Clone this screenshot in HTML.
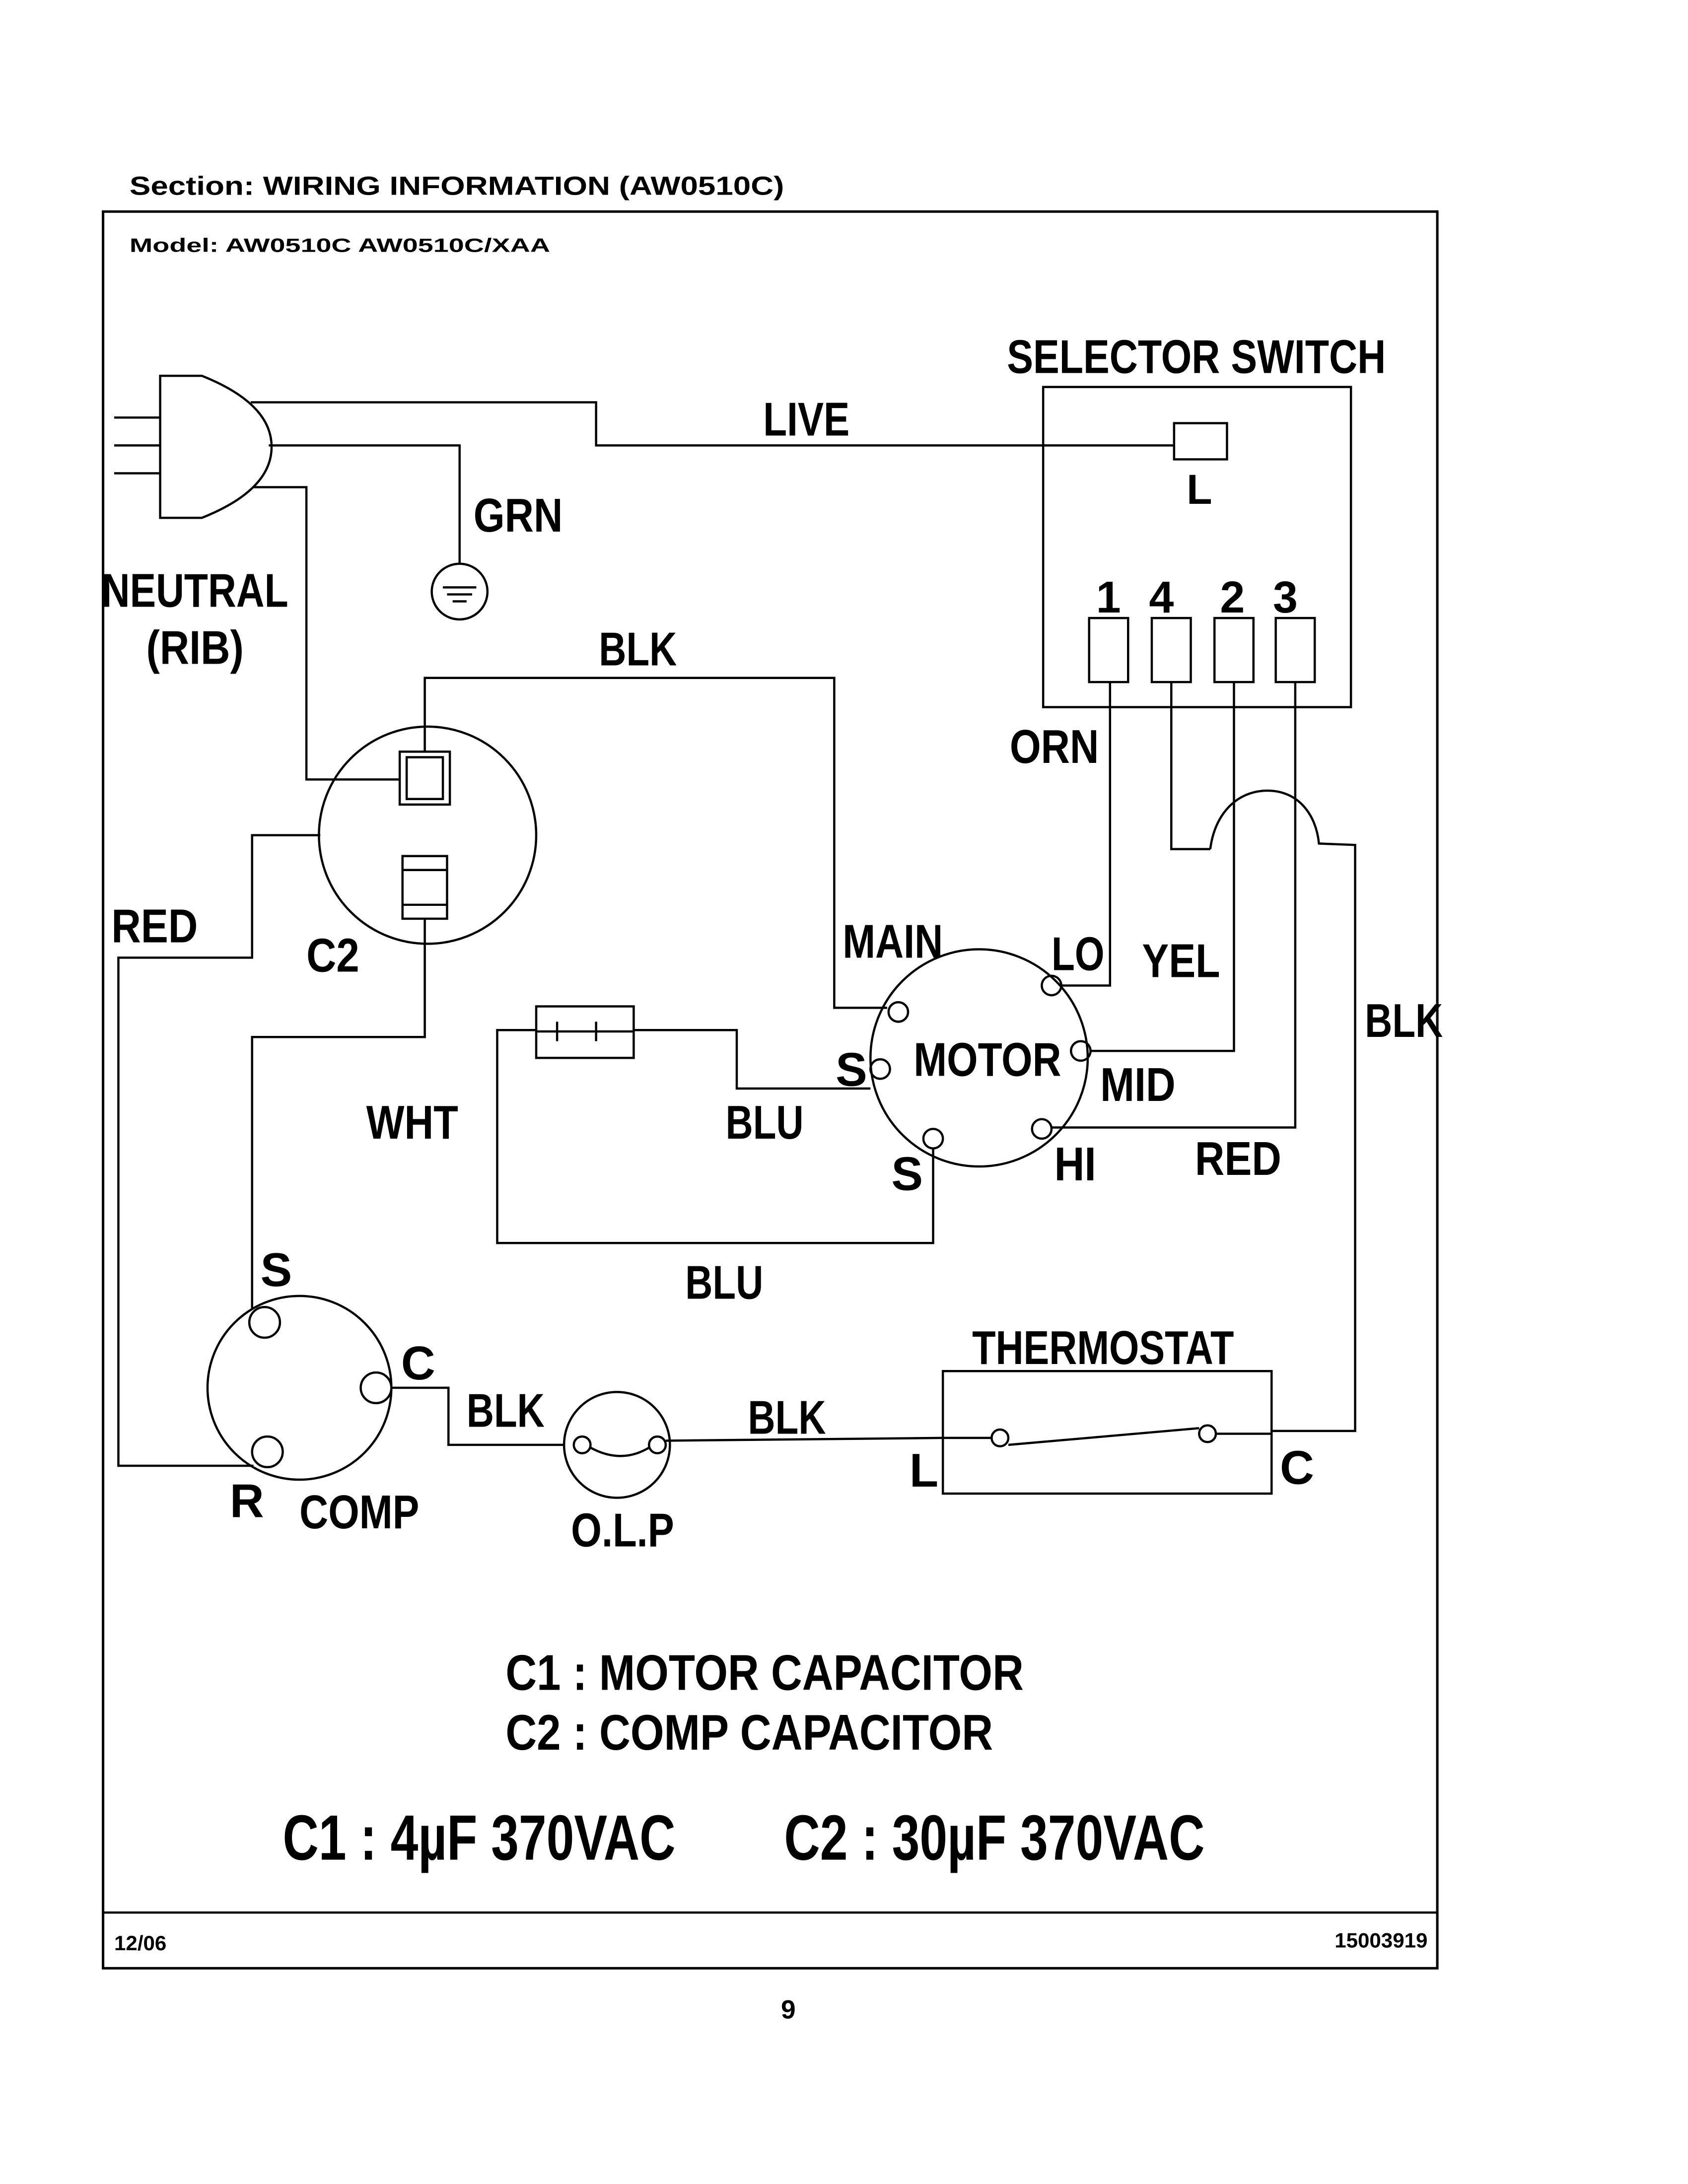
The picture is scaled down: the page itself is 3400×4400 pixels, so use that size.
<!DOCTYPE html>
<html><head><meta charset="utf-8"><style>
html,body{margin:0;padding:0;background:#fff}
svg{display:block}
text{font-family:"Liberation Sans",sans-serif;fill:#000}
.b{font-weight:bold}
</style></head><body>
<svg width="3400" height="4400" viewBox="0 0 1212 1569" preserveAspectRatio="none" xmlns="http://www.w3.org/2000/svg">
<rect width="1224" height="1584" fill="#fff"/>
<g fill="none" stroke="#000" stroke-width="1.6">
<rect x="74" y="152" width="958" height="1262" stroke-width="1.8"/>
<line x1="74" y1="1374" x2="1032" y2="1374"/>
<rect x="749" y="278" width="221" height="230"/>
<rect x="843" y="304" width="38" height="26"/>
<rect x="782" y="444" width="28" height="46"/>
<rect x="827" y="444" width="28" height="46"/>
<rect x="872" y="444" width="28" height="46"/>
<rect x="916" y="444" width="28" height="46"/>
<path d="M115,270 L145,270 Q195,290 195,321 Q195,352 145,372 L115,372 Z"/>
<line x1="82" y1="300" x2="115" y2="300"/><line x1="82" y1="320" x2="115" y2="320"/><line x1="82" y1="340" x2="115" y2="340"/>
<polyline points="180,289 428,289 428,320 843,320"/>
<polyline points="193,320 330,320 330,405"/>
<circle cx="330" cy="425" r="20"/>
<line x1="318" y1="422" x2="342" y2="422"/><line x1="321" y1="427" x2="339" y2="427"/><line x1="325" y1="432" x2="335" y2="432"/>
<polyline points="182,350 220,350 220,560 287,560"/>
<circle cx="307" cy="600" r="78"/>
<rect x="287" y="540" width="36" height="38"/>
<rect x="292" y="544" width="26" height="30"/>
<rect x="289" y="615" width="32" height="45"/>
<line x1="289" y1="625" x2="321" y2="625"/><line x1="289" y1="650" x2="321" y2="650"/>
<polyline points="305,540 305,487 599,487 599,724 637,724"/>
<polyline points="230,600 181,600 181,688 85,688 85,1053 182,1053"/>
<polyline points="305,660 305,745 181,745 181,940"/>
<circle cx="703" cy="760" r="78"/>
<circle cx="645" cy="727" r="7"/>
<circle cx="755" cy="708" r="7"/>
<circle cx="776" cy="755" r="7"/>
<circle cx="748" cy="811" r="7"/>
<circle cx="632" cy="768" r="7"/>
<circle cx="670" cy="818" r="7"/>
<rect x="385" y="723" width="70" height="37"/>
<line x1="400" y1="734" x2="400" y2="748"/><line x1="428" y1="734" x2="428" y2="748"/><line x1="385" y1="741" x2="455" y2="741"/>
<polyline points="455,740 529,740 529,782 625,782"/>
<polyline points="385,740 357,740 357,893 670,893 670,825"/>
<polyline points="762,708 797,708 797,490"/>
<polyline points="841,490 841,610 869,610"/>
<path d="M869,610 C872,585 888,568 910,568 C932,568 945,585 947,606 L973,607 L973,1028 L913,1028"/>
<polyline points="886,490 886,755 783,755"/>
<polyline points="930,490 930,810 755,810"/>
<circle cx="215" cy="997" r="66"/>
<circle cx="190" cy="950" r="11"/>
<circle cx="270" cy="997" r="11"/>
<circle cx="192" cy="1043" r="11"/>
<polyline points="281,997 322,997 322,1038 405,1038"/>
<circle cx="443" cy="1038" r="38"/>
<circle cx="418" cy="1038" r="6"/>
<circle cx="472" cy="1038" r="6"/>
<path d="M424,1040 Q446,1052 466,1040"/>
<polyline points="478,1035 677,1033"/>
<rect x="677" y="985" width="236" height="88"/>
<line x1="677" y1="1033" x2="712" y2="1033"/>
<circle cx="718" cy="1033" r="6"/><circle cx="867" cy="1030" r="6"/>
<line x1="724" y1="1038" x2="861" y2="1026"/>
<line x1="873" y1="1030" x2="913" y2="1030"/>
</g>
<text x="93" y="140" font-size="19" class="b" textLength="470" lengthAdjust="spacingAndGlyphs">Section:  WIRING INFORMATION (AW0510C)</text>
<text x="93" y="181" font-size="14" class="b" textLength="302" lengthAdjust="spacingAndGlyphs">Model:     AW0510C AW0510C/XAA</text>
<g class="b" font-weight="bold">
<text x="723" y="268" font-size="34" textLength="272" lengthAdjust="spacingAndGlyphs">SELECTOR SWITCH</text>
<text x="852" y="362" font-size="30">L</text>
<text x="787" y="440" font-size="32">1</text><text x="825" y="440" font-size="32">4</text><text x="876" y="440" font-size="32">2</text><text x="914" y="440" font-size="32">3</text>
<text x="548" y="313" font-size="34" textLength="62" lengthAdjust="spacingAndGlyphs">LIVE</text>
<text x="340" y="382" font-size="34" textLength="64" lengthAdjust="spacingAndGlyphs">GRN</text>
<text x="73" y="436" font-size="34" textLength="134" lengthAdjust="spacingAndGlyphs">NEUTRAL</text>
<text x="105" y="477" font-size="34" textLength="70" lengthAdjust="spacingAndGlyphs">(RIB)</text>
<text x="430" y="478" font-size="34" textLength="56" lengthAdjust="spacingAndGlyphs">BLK</text>
<text x="725" y="548" font-size="34" textLength="64" lengthAdjust="spacingAndGlyphs">ORN</text>
<text x="80" y="677" font-size="34" textLength="62" lengthAdjust="spacingAndGlyphs">RED</text>
<text x="220" y="698" font-size="34" textLength="38" lengthAdjust="spacingAndGlyphs">C2</text>
<text x="605" y="688" font-size="34" textLength="72" lengthAdjust="spacingAndGlyphs">MAIN</text>
<text x="755" y="697" font-size="34" textLength="38" lengthAdjust="spacingAndGlyphs">LO</text>
<text x="820" y="702" font-size="34" textLength="56" lengthAdjust="spacingAndGlyphs">YEL</text>
<text x="656" y="773" font-size="34" textLength="106" lengthAdjust="spacingAndGlyphs">MOTOR</text>
<text x="600" y="780" font-size="34">S</text>
<text x="790" y="791" font-size="34" textLength="54" lengthAdjust="spacingAndGlyphs">MID</text>
<text x="980" y="745" font-size="34" textLength="56" lengthAdjust="spacingAndGlyphs">BLK</text>
<text x="263" y="818" font-size="34" textLength="66" lengthAdjust="spacingAndGlyphs">WHT</text>
<text x="521" y="818" font-size="34" textLength="56" lengthAdjust="spacingAndGlyphs">BLU</text>
<text x="640" y="855" font-size="34">S</text>
<text x="757" y="848" font-size="34" textLength="30" lengthAdjust="spacingAndGlyphs">HI</text>
<text x="858" y="844" font-size="34" textLength="62" lengthAdjust="spacingAndGlyphs">RED</text>
<text x="492" y="933" font-size="34" textLength="56" lengthAdjust="spacingAndGlyphs">BLU</text>
<text x="187" y="924" font-size="34">S</text>
<text x="288" y="991" font-size="34">C</text>
<text x="698" y="980" font-size="34" textLength="188" lengthAdjust="spacingAndGlyphs">THERMOSTAT</text>
<text x="335" y="1025" font-size="34" textLength="56" lengthAdjust="spacingAndGlyphs">BLK</text>
<text x="537" y="1030" font-size="34" textLength="56" lengthAdjust="spacingAndGlyphs">BLK</text>
<text x="653" y="1068" font-size="34">L</text>
<text x="919" y="1066" font-size="34">C</text>
<text x="165" y="1090" font-size="34">R</text>
<text x="215" y="1098" font-size="34" textLength="86" lengthAdjust="spacingAndGlyphs">COMP</text>
<text x="410" y="1111" font-size="34" textLength="74" lengthAdjust="spacingAndGlyphs">O.L.P</text>
<text x="363" y="1214" font-size="36" textLength="372" lengthAdjust="spacingAndGlyphs">C1 : MOTOR CAPACITOR</text>
<text x="363" y="1257" font-size="36" textLength="350" lengthAdjust="spacingAndGlyphs">C2 : COMP CAPACITOR</text>
<text x="203" y="1336" font-size="46" textLength="282" lengthAdjust="spacingAndGlyphs">C1 : 4µF 370VAC</text>
<text x="563" y="1336" font-size="46" textLength="302" lengthAdjust="spacingAndGlyphs">C2 : 30µF 370VAC</text>
</g>
<text x="82" y="1401" font-size="15" class="b">12/06</text>
<text x="1025" y="1399" font-size="15" class="b" text-anchor="end">15003919</text>
<text x="566" y="1450" font-size="19" class="b" text-anchor="middle">9</text>
</svg>
</body></html>
